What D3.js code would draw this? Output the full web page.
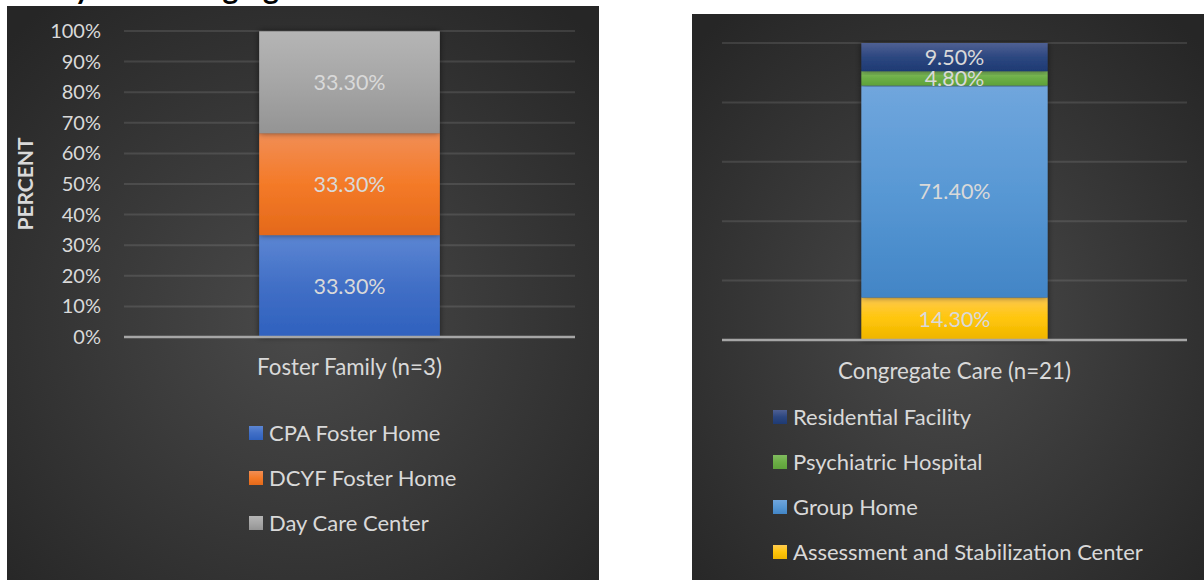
<!DOCTYPE html>
<html>
<head>
<meta charset="utf-8">
<script src="https://cdn.jsdelivr.net/npm/d3@7"></script>
<style>
  body { margin: 0; background: #fff; }
  svg { display: block; }
  text { font-family: Lato, "Open Sans", sans-serif; }
</style>
</head>
<body>
<svg id="chart" width="1204" height="580"></svg>
<script>
// data
const leftCategories = ["Foster Family (n=3)"];
const leftSeries = ["CPA Foster Home", "DCYF Foster Home", "Day Care Center"];
const leftValues = [33.3, 33.3, 33.3];
const leftTicks = [0, 10, 20, 30, 40, 50, 60, 70, 80, 90, 100];

const rightCategories = ["Congregate Care (n=21)"];
const rightSeries = ["Assessment and Stabilization Center", "Group Home", "Psychiatric Hospital", "Residential Facility"];
const rightValues = [14.3, 71.4, 4.8, 9.5];
const rightTicks = [0, 20, 40, 60, 80, 100];

const titleText = "Safety and Emerging";

// gradient colours (top, middle, bottom) for each series
const fills = {
  "CPA Foster Home": ["#5c86d3", "#416fc6", "#2f61be"],
  "DCYF Foster Home": ["#f18e55", "#f47a28", "#e4691a"],
  "Day Care Center": ["#b5b5b5", "#a6a6a6", "#949494"],
  "Assessment and Stabilization Center": ["#ffca50", "#ffc60a", "#eeb400"],
  "Group Home": ["#70a6dd", "#5898d4", "#4285c6"],
  "Psychiatric Hospital": ["#80bb5f", "#6cae46", "#5ea23a"],
  "Residential Facility": ["#4f6093", "#2c4780", "#1e3a73"]
};

const svg = d3.select("#chart");
const defs = svg.append("defs");

const bg = defs.append("radialGradient").attr("id", "bg")
  .attr("cx", "50%").attr("cy", "55%").attr("r", "70%");
bg.append("stop").attr("offset", "0%").attr("stop-color", "#4a4a4a");
bg.append("stop").attr("offset", "100%").attr("stop-color", "#262626");

Object.keys(fills).forEach(function(k, i){
  let g = defs.append("linearGradient").attr("id", "g" + i)
    .attr("x1", 0).attr("y1", 0).attr("x2", 0).attr("y2", 1);
  g.append("stop").attr("offset", "0%").attr("stop-color", fills[k][0]);
  g.append("stop").attr("offset", "50%").attr("stop-color", fills[k][1]);
  g.append("stop").attr("offset", "100%").attr("stop-color", fills[k][2]);
});
function fillId(name){ return "url(#g" + Object.keys(fills).indexOf(name) + ")"; }

const shadow = defs.append("filter").attr("id", "shadow")
  .attr("x", "-10%").attr("y", "-10%").attr("width", "120%").attr("height", "120%");
shadow.append("feDropShadow").attr("dx", 0).attr("dy", 0)
  .attr("stdDeviation", 3).attr("flood-color", "#000").attr("flood-opacity", 0.55);

// title (cut off at the top of the picture)
svg.append("text")
  .attr("x", 6).attr("y", -1)
  .attr("font-size", 30).attr("font-weight", "bold").attr("fill", "#000")
  .text(titleText);

function drawPanel(opt) {
  const g = svg.append("g");
  g.append("rect")
    .attr("x", opt.panel[0]).attr("y", opt.panel[1])
    .attr("width", opt.panel[2]).attr("height", opt.panel[3])
    .attr("fill", "url(#bg)");

  const x = d3.scaleBand()
    .domain(opt.categories)
    .range([opt.plot[0], opt.plot[1]])
    .padding(0.428);
  const y = d3.scaleLinear()
    .domain([0, 100])
    .range([opt.plot[3], opt.plot[2]]);

  // gridlines
  g.append("g")
    .selectAll("line")
    .data(opt.ticks.filter(d => d > 0))
    .enter().append("line")
    .attr("x1", opt.plot[0]).attr("x2", opt.plot[1])
    .attr("y1", d => y(d)).attr("y2", d => y(d))
    .attr("stroke", "rgba(255,255,255,0.11)")
    .attr("stroke-width", 2);

  if (opt.showAxis) {
    const ax = g.append("g")
      .attr("transform", `translate(${opt.plot[0]},0)`)
      .call(d3.axisLeft(y).tickValues(opt.ticks).tickSize(0).tickPadding(23).tickFormat(d => d + "%"));
    ax.select(".domain").remove();
    ax.selectAll("text")
      .attr("font-family", "Lato, sans-serif")
      .attr("font-size", 20)
      .attr("fill", "#d9d9d9");
  }

  // stacked bars
  const row = {};
  opt.series.forEach((s, i) => row[s] = opt.values[i]);
  const stacked = d3.stack().keys(opt.series)([row]);

  const bars = g.append("g");
  stacked.forEach(function(layer){
    let d = layer[0];
    bars.append("rect")
      .attr("x", x(opt.categories[0]))
      .attr("y", y(d[1]))
      .attr("width", x.bandwidth())
      .attr("height", y(d[0]) - y(d[1]))
      .attr("fill", fillId(layer.key))
      .attr("filter", "url(#shadow)");
  });
  stacked.forEach(function(layer){
    let d = layer[0];
    bars.append("text")
      .attr("x", x(opt.categories[0]) + x.bandwidth() / 2)
      .attr("y", (y(d[0]) + y(d[1])) / 2)
      .attr("dy", "0.36em")
      .attr("text-anchor", "middle")
      .attr("font-size", 21.5)
      .attr("fill", "#d9d9d9")
      .text(d3.format(".2f")(d[1] - d[0]) + "%");
  });

  // baseline
  g.append("line")
    .attr("x1", opt.plot[0]).attr("x2", opt.plot[1])
    .attr("y1", y(0)).attr("y2", y(0))
    .attr("stroke", "#a6a6a6").attr("stroke-width", 2.5);

  // category label
  g.append("text")
    .attr("x", x(opt.categories[0]) + x.bandwidth() / 2)
    .attr("y", opt.catY)
    .attr("text-anchor", "middle")
    .attr("font-size", 22.3)
    .attr("fill", "#d9d9d9")
    .text(opt.categories[0]);

  // legend
  const leg = g.selectAll(".leg")
    .data(opt.legendOrder)
    .enter().append("g")
    .attr("transform", (d, i) => `translate(${opt.legend[0]},${opt.legend[1] + i * 45})`);
  leg.append("rect")
    .attr("x", 0).attr("y", -7).attr("width", 14).attr("height", 14)
    .attr("fill", d => fillId(d));
  leg.append("text")
    .attr("x", 20).attr("y", 0).attr("dy", "0.36em")
    .attr("font-size", 22)
    .attr("fill", "#d9d9d9")
    .text(d => d);
}

drawPanel({
  panel: [7, 6, 592, 574],
  plot: [124, 575, 31, 337],
  categories: leftCategories,
  series: leftSeries,
  values: leftValues,
  ticks: leftTicks,
  showAxis: true,
  catY: 375,
  legend: [249, 433],
  legendOrder: leftSeries
});

drawPanel({
  panel: [692, 14, 512, 566],
  plot: [722, 1187, 43, 340],
  categories: rightCategories,
  series: rightSeries,
  values: rightValues,
  ticks: rightTicks,
  showAxis: false,
  catY: 379,
  legend: [773, 417],
  legendOrder: rightSeries.slice().reverse()
});

// y axis title
svg.append("text")
  .attr("transform", "translate(33,184) rotate(-90)")
  .attr("text-anchor", "middle")
  .attr("font-size", 21)
  .attr("font-weight", "bold")
  .attr("fill", "#d9d9d9")
  .text("PERCENT");
</script>
</body>
</html>
